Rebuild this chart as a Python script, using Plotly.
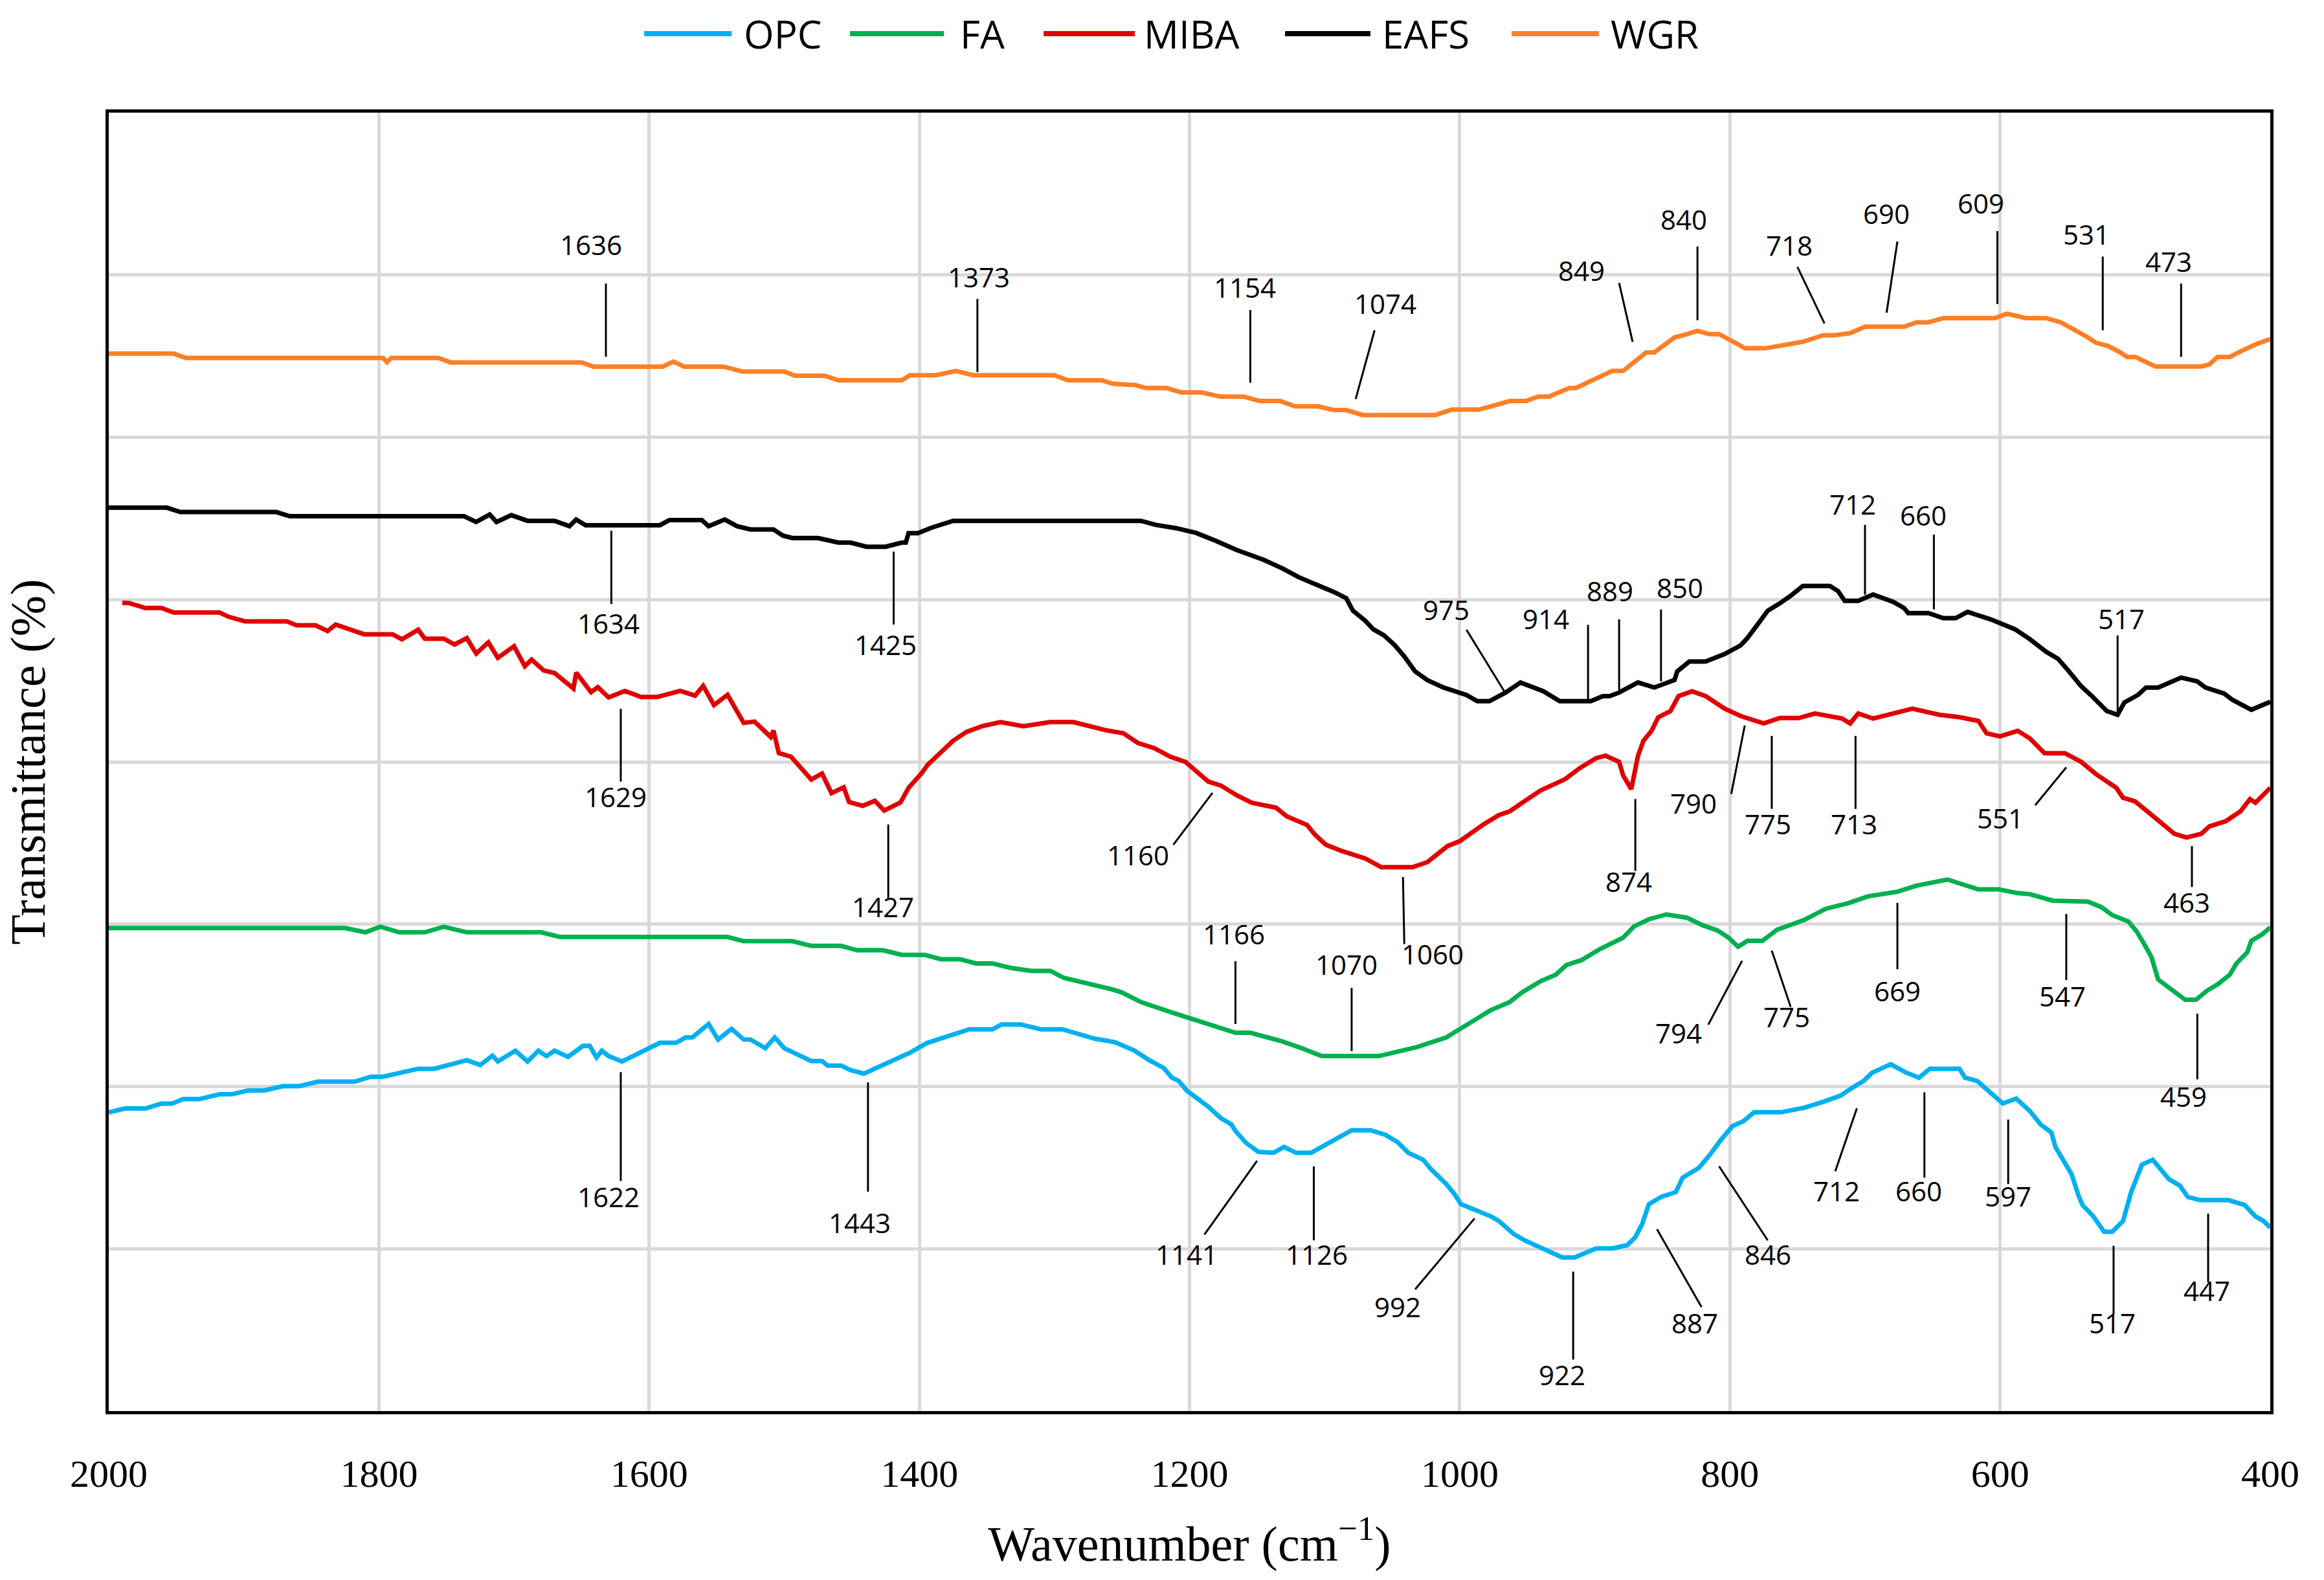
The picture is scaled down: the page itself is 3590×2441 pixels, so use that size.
import plotly.graph_objects as go

# ---------------- data (wavenumber cm-1, transmittance in offset grid units) ----------------
wgr_x = [2000, 1952, 1943, 1797, 1794, 1791, 1756, 1747, 1650, 1641, 1590, 1582, 1574, 1545, 1531, 1500,
         1492, 1470, 1460, 1413, 1407, 1388, 1373, 1360, 1300, 1290, 1265, 1257, 1245, 1241, 1232, 1217,
         1206, 1191, 1177, 1160, 1148, 1133, 1122, 1105, 1093, 1084, 1072, 1018, 1006, 986, 977, 963, 951,
         942, 934, 919, 914, 896, 887, 879, 873, 862, 856, 850, 841, 832, 824, 815, 808, 796, 789, 774, 757,
         746, 731, 723, 711, 700, 671, 662, 653, 642, 604, 595, 581, 566, 555, 543, 535, 529, 520, 511, 506,
         500, 485, 451, 445, 439, 430, 422, 410, 400]
wgr_y = [6.515, 6.515, 6.489, 6.489, 6.462, 6.489, 6.489, 6.461, 6.461, 6.435, 6.435, 6.466, 6.435, 6.435,
         6.405, 6.405, 6.379, 6.379, 6.351, 6.351, 6.382, 6.382, 6.408, 6.382, 6.382, 6.351, 6.351, 6.330,
         6.323, 6.323, 6.303, 6.303, 6.276, 6.276, 6.250, 6.250, 6.223, 6.223, 6.190, 6.190, 6.167, 6.167,
         6.137, 6.137, 6.170, 6.170, 6.190, 6.223, 6.223, 6.250, 6.250, 6.303, 6.303, 6.369, 6.409, 6.409,
         6.449, 6.522, 6.522, 6.562, 6.615, 6.635, 6.655, 6.635, 6.635, 6.582, 6.548, 6.548, 6.575, 6.588,
         6.628, 6.628, 6.641, 6.681, 6.681, 6.708, 6.708, 6.734, 6.734, 6.761, 6.734, 6.734, 6.708, 6.655,
         6.615, 6.582, 6.562, 6.522, 6.495, 6.495, 6.436, 6.436, 6.449, 6.495, 6.495, 6.529, 6.575, 6.605]

eafs_x = [2000, 1957, 1947, 1876, 1866, 1737, 1728, 1718, 1713, 1702, 1690, 1670, 1659, 1654, 1647, 1592,
          1585, 1561, 1556, 1544, 1535, 1525, 1508, 1501, 1494, 1475, 1460, 1451, 1439, 1425, 1413, 1410,
          1408, 1401, 1391, 1375, 1236, 1225, 1210, 1195, 1180, 1165, 1145, 1131, 1119, 1108, 1093, 1084,
          1079, 1070, 1064, 1056, 1048, 1041, 1036, 1033, 1024, 1012, 995, 987, 978, 966, 955, 946, 938, 926,
          903, 894, 889, 882, 868, 856, 841, 839, 830, 818, 804, 792, 787, 778, 772, 763, 755, 746, 726, 720,
          715, 705, 694, 679, 671, 668, 653, 642, 633, 624, 607, 589, 578, 566, 557, 549, 540, 532, 526, 521,
          513, 508, 498, 492, 483, 466, 454, 448, 434, 428, 414, 403, 400]
eafs_y = [5.566, 5.566, 5.539, 5.539, 5.513, 5.513, 5.478, 5.524, 5.478, 5.520, 5.485, 5.485, 5.452, 5.493,
          5.458, 5.458, 5.490, 5.490, 5.452, 5.493, 5.452, 5.432, 5.432, 5.394, 5.379, 5.379, 5.351, 5.351,
          5.325, 5.325, 5.351, 5.351, 5.409, 5.409, 5.443, 5.485, 5.485, 5.460, 5.440, 5.410, 5.360, 5.305,
          5.244, 5.191, 5.137, 5.099, 5.046, 5.008, 4.931, 4.870, 4.817, 4.779, 4.718, 4.649, 4.595, 4.557,
          4.504, 4.458, 4.412, 4.374, 4.374, 4.427, 4.489, 4.458, 4.435, 4.374, 4.374, 4.405, 4.405, 4.427,
          4.489, 4.458, 4.504, 4.557, 4.618, 4.618, 4.664, 4.718, 4.763, 4.863, 4.931, 4.977, 5.023, 5.084,
          5.084, 5.053, 4.992, 4.992, 5.031, 4.985, 4.947, 4.916, 4.916, 4.885, 4.885, 4.924, 4.878, 4.817,
          4.756, 4.679, 4.634, 4.557, 4.466, 4.405, 4.351, 4.313, 4.290, 4.366, 4.412, 4.458, 4.458, 4.519,
          4.496, 4.458, 4.420, 4.382, 4.321, 4.359, 4.370]

miba_x = [1990, 1985, 1973, 1961, 1952, 1918, 1911, 1899, 1868, 1861, 1847, 1838, 1832, 1822, 1811, 1790,
          1783, 1771, 1766, 1752, 1744, 1735, 1728, 1719, 1712, 1700, 1692, 1687, 1678, 1670, 1656, 1654,
          1643, 1638, 1630, 1618, 1606, 1594, 1577, 1566, 1560, 1552, 1542, 1530, 1522, 1510, 1508, 1504,
          1495, 1480, 1472, 1465, 1456, 1452, 1442, 1433, 1426, 1414, 1408, 1398, 1394, 1375, 1365, 1353,
          1340, 1323, 1303, 1286, 1272, 1262, 1249, 1238, 1226, 1214, 1203, 1194, 1186, 1177, 1165, 1154,
          1136, 1128, 1113, 1107, 1099, 1087, 1070, 1058, 1035, 1024, 1009, 1000, 983, 971, 963, 951, 940,
          922, 911, 899, 892, 882, 879, 873, 868, 864, 858, 853, 844, 838, 828, 818, 804, 792, 775, 763, 749,
          737, 717, 711, 705, 694, 665, 645, 630, 616, 610, 600, 587, 578, 567, 552, 540, 529, 514, 509, 500,
          491, 483, 471, 462, 451, 445, 433, 422, 415, 411, 404, 400]
miba_y = [4.980, 4.978, 4.948, 4.948, 4.920, 4.920, 4.893, 4.865, 4.865, 4.841, 4.841, 4.806, 4.846, 4.815,
          4.786, 4.786, 4.755, 4.814, 4.759, 4.759, 4.723, 4.762, 4.668, 4.736, 4.641, 4.712, 4.589, 4.630,
          4.563, 4.547, 4.452, 4.550, 4.429, 4.460, 4.397, 4.437, 4.400, 4.400, 4.437, 4.408, 4.468, 4.350,
          4.413, 4.240, 4.248, 4.153, 4.193, 4.054, 4.032, 3.891, 3.928, 3.807, 3.843, 3.752, 3.729, 3.760,
          3.700, 3.749, 3.839, 3.933, 3.980, 4.130, 4.185, 4.221, 4.245, 4.220, 4.245, 4.245, 4.212, 4.195,
          4.176, 4.115, 4.084, 4.031, 4.000, 3.931, 3.878, 3.855, 3.794, 3.748, 3.718, 3.664, 3.611, 3.550,
          3.489, 3.450, 3.405, 3.351, 3.351, 3.382, 3.481, 3.511, 3.611, 3.672, 3.695, 3.763, 3.824, 3.893,
          3.962, 4.023, 4.038, 4.000, 3.916, 3.832, 4.038, 4.130, 4.191, 4.275, 4.313, 4.405, 4.435, 4.405,
          4.328, 4.282, 4.237, 4.270, 4.270, 4.298, 4.267, 4.237, 4.298, 4.267, 4.328, 4.290, 4.275, 4.252,
          4.176, 4.157, 4.191, 4.145, 4.053, 4.053, 4.000, 3.924, 3.840, 3.779, 3.756, 3.695, 3.641, 3.557,
          3.534, 3.557, 3.603, 3.634, 3.695, 3.771, 3.748, 3.802, 3.840]

fa_x = [2000, 1825, 1810, 1799, 1785, 1766, 1752, 1735, 1680, 1666, 1542, 1530, 1494, 1480, 1458, 1446, 1427,
        1413, 1396, 1384, 1370, 1358, 1346, 1332, 1317, 1303, 1293, 1274, 1258, 1250, 1236, 1211, 1188, 1166,
        1155, 1133, 1119, 1102, 1060, 1032, 1010, 993, 977, 963, 954, 940, 929, 921, 910, 896, 879, 871, 860,
        847, 832, 821, 809, 801, 794, 787, 776, 765, 745, 729, 712, 698, 690, 676, 662, 639, 616, 601, 587,
        578, 561, 535, 525, 517, 505, 499, 494, 488, 483, 474, 463, 455, 447, 439, 430, 425, 417, 414, 406, 400]
fa_y = [2.976, 2.976, 2.950, 2.984, 2.950, 2.950, 2.984, 2.950, 2.950, 2.921, 2.921, 2.895, 2.895, 2.866,
        2.866, 2.839, 2.839, 2.811, 2.811, 2.784, 2.784, 2.758, 2.758, 2.730, 2.712, 2.712, 2.669, 2.633,
        2.600, 2.579, 2.520, 2.450, 2.391, 2.331, 2.331, 2.282, 2.242, 2.187, 2.187, 2.242, 2.302, 2.391,
        2.470, 2.520, 2.579, 2.649, 2.688, 2.748, 2.778, 2.847, 2.917, 2.986, 3.030, 3.060, 3.040, 2.996,
        2.960, 2.917, 2.861, 2.897, 2.897, 2.966, 3.026, 3.095, 3.130, 3.171, 3.180, 3.200, 3.237, 3.275,
        3.214, 3.214, 3.191, 3.185, 3.145, 3.139, 3.105, 3.056, 3.016, 2.956, 2.887, 2.798, 2.659, 2.599,
        2.534, 2.534, 2.589, 2.629, 2.688, 2.758, 2.827, 2.897, 2.937, 2.980]

opc_x = [2000, 1988, 1973, 1961, 1953, 1945, 1933, 1918, 1909, 1897, 1885, 1871, 1859, 1845, 1818, 1806, 1797,
         1782, 1771, 1759, 1747, 1735, 1725, 1716, 1712, 1699, 1690, 1682, 1676, 1670, 1660, 1649, 1644, 1639,
         1635, 1630, 1620, 1601, 1592, 1580, 1573, 1568, 1556, 1549, 1539, 1530, 1525, 1514, 1507, 1500, 1489,
         1480, 1472, 1468, 1458, 1451, 1441, 1432, 1418, 1406, 1394, 1375, 1363, 1346, 1339, 1325, 1310, 1294,
         1284, 1270, 1260, 1255, 1241, 1230, 1219, 1213, 1208, 1202, 1194, 1186, 1177, 1169, 1166, 1158, 1149,
         1138, 1130, 1121, 1110, 1099, 1088, 1080, 1066, 1055, 1046, 1038, 1027, 1021, 1010, 1004, 999, 988,
         977, 971, 960, 952, 938, 924, 915, 899, 887, 876, 870, 865, 860, 851, 840, 835, 823, 815, 807, 798,
         790, 782, 762, 745, 731, 718, 709, 701, 695, 681, 670, 660, 652, 630, 626, 617, 606, 598, 588, 578,
         570, 562, 559, 553, 547, 542, 539, 531, 523, 517, 509, 503, 495, 487, 481, 475, 467, 461, 452, 431,
         419, 411, 405, 400]
opc_y = [1.840, 1.864, 1.864, 1.894, 1.894, 1.922, 1.922, 1.952, 1.952, 1.975, 1.975, 2.002, 2.002, 2.030,
         2.030, 2.060, 2.060, 2.088, 2.109, 2.109, 2.137, 2.162, 2.132, 2.190, 2.154, 2.220, 2.154, 2.220,
         2.187, 2.220, 2.183, 2.250, 2.250, 2.179, 2.220, 2.187, 2.154, 2.236, 2.269, 2.269, 2.302, 2.302,
         2.385, 2.289, 2.355, 2.289, 2.289, 2.236, 2.302, 2.236, 2.195, 2.157, 2.157, 2.129, 2.129, 2.101,
         2.079, 2.112, 2.162, 2.212, 2.269, 2.322, 2.352, 2.352, 2.382, 2.382, 2.352, 2.352, 2.327, 2.294,
         2.280, 2.272, 2.222, 2.163, 2.113, 2.054, 2.034, 1.974, 1.925, 1.875, 1.806, 1.766, 1.726, 1.651,
         1.597, 1.591, 1.627, 1.591, 1.591, 1.643, 1.696, 1.730, 1.730, 1.702, 1.657, 1.591, 1.548, 1.488,
         1.399, 1.339, 1.274, 1.240, 1.200, 1.171, 1.091, 1.052, 1.002, 0.946, 0.946, 1.002, 1.002, 1.022,
         1.071, 1.151, 1.274, 1.319, 1.349, 1.438, 1.498, 1.577, 1.667, 1.756, 1.786, 1.841, 1.841, 1.869,
         1.905, 1.944, 1.994, 2.034, 2.083, 2.137, 2.087, 2.054, 2.109, 2.109, 2.054, 2.034, 1.954, 1.895,
         1.925, 1.849, 1.766, 1.716, 1.627, 1.548, 1.458, 1.329, 1.270, 1.200, 1.105, 1.105, 1.171, 1.349,
         1.518, 1.548, 1.492, 1.429, 1.389, 1.319, 1.300, 1.300, 1.270, 1.200, 1.171, 1.131]

series_names = ["OPC", "FA", "MIBA", "EAFS", "WGR"]
x_ticks = [2000, 1800, 1600, 1400, 1200, 1000, 800, 600, 400]

# peak labels: text, and where the picture puts text centre and leader line
peak_labels = ["1636", "1373", "1154", "1074", "849", "840", "718", "690", "609", "531", "473",
               "1634", "1425", "975", "914", "889", "850", "712", "660", "517",
               "1629", "1427", "1160", "1060", "874", "790", "775", "713", "551", "463",
               "1166", "1070", "794", "775", "669", "547", "459",
               "1622", "1443", "1141", "1126", "992", "922", "887", "846", "712", "660", "597", "517", "447"]
label_pos = [(1643, 7.188), (1356, 6.989), (1159, 6.927), (1055, 6.827), (910, 7.027), (834, 7.345),
             (756, 7.186), (684, 7.378), (614, 7.445), (536, 7.252), (475, 7.086),
             (1630, 4.854), (1425, 4.725), (1010, 4.939), (936, 4.885), (889, 5.053), (837, 5.076),
             (709, 5.590), (657, 5.523), (510, 4.885),
             (1625, 3.787), (1427, 3.107), (1238, 3.427), (1020, 2.817), (875, 3.264), (827, 3.748),
             (772, 3.618), (708, 3.618), (600, 3.656), (462, 3.137),
             (1167, 2.942), (1084, 2.754), (838, 2.331), (758, 2.431), (676, 2.589), (554, 2.560), (464, 1.940),
             (1630, 1.324), (1444, 1.162), (1202, 0.968), (1106, 0.968), (1046, 0.645), (924, 0.224),
             (826, 0.546), (772, 0.968), (721, 1.359), (660, 1.359), (594, 1.325), (517, 0.546), (447, 0.744)]
leader_lines = [(1632, 6.947, 1632, 6.496), (1357, 6.852, 1357, 6.402), (1155, 6.784, 1155, 6.336),
                (1063, 6.659, 1077, 6.236), (882, 6.951, 872, 6.588), (824, 7.175, 824, 6.721),
                (750, 7.049, 730, 6.701), (676, 7.206, 684, 6.768), (602, 7.270, 602, 6.821),
                (524, 7.113, 524, 6.659), (466, 6.947, 466, 6.495),
                (1628, 5.424, 1628, 4.972), (1419, 5.295, 1419, 4.846), (995, 4.814, 967, 4.435),
                (905, 4.844, 905, 4.382), (882, 4.878, 882, 4.443), (851, 4.939, 851, 4.496),
                (700, 5.460, 700, 5.030), (649, 5.400, 649, 4.939), (513, 4.779, 513, 4.290),
                (1621, 4.327, 1621, 3.878), (1423, 3.614, 1423, 3.154), (1183, 3.809, 1212, 3.489),
                (1042, 3.290, 1041, 2.877), (870, 3.771, 870, 3.328), (789, 4.224, 799, 3.802),
                (769, 4.160, 769, 3.710), (707, 4.160, 707, 3.710), (551, 3.966, 574, 3.733),
                (458, 3.481, 458, 3.229),
                (1166, 2.772, 1166, 2.385), (1080, 2.607, 1080, 2.218), (791, 2.774, 816, 2.381),
                (769, 2.837, 755, 2.490), (676, 3.131, 676, 2.722), (551, 3.063, 551, 2.655),
                (454, 2.448, 454, 2.044),
                (1621, 2.088, 1621, 1.418), (1438, 2.025, 1438, 1.352), (1150, 1.542, 1189, 1.087),
                (1108, 1.508, 1108, 1.052), (989, 1.187, 1033, 0.750), (916, 0.859, 916, 0.317),
                (854, 1.121, 821, 0.641), (808, 1.508, 772, 1.052), (706, 1.865, 722, 1.478),
                (656, 1.964, 656, 1.438), (594, 1.796, 594, 1.399), (516, 1.018, 516, 0.595),
                (446, 1.216, 446, 0.794)]

# legend layout (paper coordinates): line start, line end, text left edge
legend_slots = [(0.2477, 0.2882, 0.2932), (0.3429, 0.3864, 0.3932), (0.4325, 0.4747, 0.4783),
                (0.5442, 0.5837, 0.5885), (0.6490, 0.6894, 0.6941)]
legend_y = 1.0608

# ---------------- figure ----------------
colors = {"OPC": "#00b0f0", "FA": "#00b050", "MIBA": "#e00000", "EAFS": "#000000", "WGR": "#ff7f27"}
data = {"OPC": (opc_x, opc_y), "FA": (fa_x, fa_y), "MIBA": (miba_x, miba_y),
        "EAFS": (eafs_x, eafs_y), "WGR": (wgr_x, wgr_y)}

fig = go.Figure()
for name in series_names:
    xs, ys = data[name]
    fig.add_trace(go.Scatter(x=xs, y=ys, mode="lines", name=name, showlegend=False,
                             line=dict(color=colors[name], width=7)))

# legend drawn as line samples + labels above the plot
for name, (lx0, lx1, tx) in zip(series_names, legend_slots):
    fig.add_shape(type="line", xref="paper", yref="paper", x0=lx0, x1=lx1, y0=legend_y, y1=legend_y,
                  line=dict(color=colors[name], width=8))
    fig.add_annotation(x=tx, y=legend_y, xref="paper", yref="paper", text=name, showarrow=False,
                       xanchor="left", yanchor="middle",
                       font=dict(family="Open Sans", size=60, color="black"))

for (x0, y0, x1, y1) in leader_lines:
    fig.add_shape(type="line", xref="x", yref="y", x0=x0, y0=y0, x1=x1, y1=y1,
                  line=dict(color="black", width=3), layer="above")

for txt, (tx, ty) in zip(peak_labels, label_pos):
    fig.add_annotation(x=tx, y=ty, xref="x", yref="y", text=txt, showarrow=False,
                       font=dict(family="Open Sans", size=42, color="black"))

serif = "Liberation Serif, Times New Roman, serif"
fig.update_layout(
    width=3590, height=2441,
    margin=dict(l=168, r=83, t=174, b=261),
    paper_bgcolor="white", plot_bgcolor="white",
    showlegend=False,
    xaxis=dict(range=[2000, 400], tickvals=x_ticks, ticktext=[str(v) for v in x_ticks],
               showgrid=True, gridcolor="#d9d9d9", gridwidth=5, zeroline=False,
               showline=True, linecolor="black", linewidth=5, mirror=True, ticks="",
               tickfont=dict(family=serif, size=60, color="black"), ticklabelstandoff=40,
               title=dict(text="Wavenumber (cm<sup>−1</sup>)", standoff=50,
                          font=dict(family=serif, size=76, color="black"))),
    yaxis=dict(range=[0, 8], dtick=1, tick0=0, showticklabels=False,
               showgrid=True, gridcolor="#d9d9d9", gridwidth=5, zeroline=False,
               showline=True, linecolor="black", linewidth=5, mirror=True, ticks="",
               title=dict(text="Transmittance (%)", standoff=70,
                          font=dict(family=serif, size=76, color="black"))),
)

fig.write_html("out.html")
